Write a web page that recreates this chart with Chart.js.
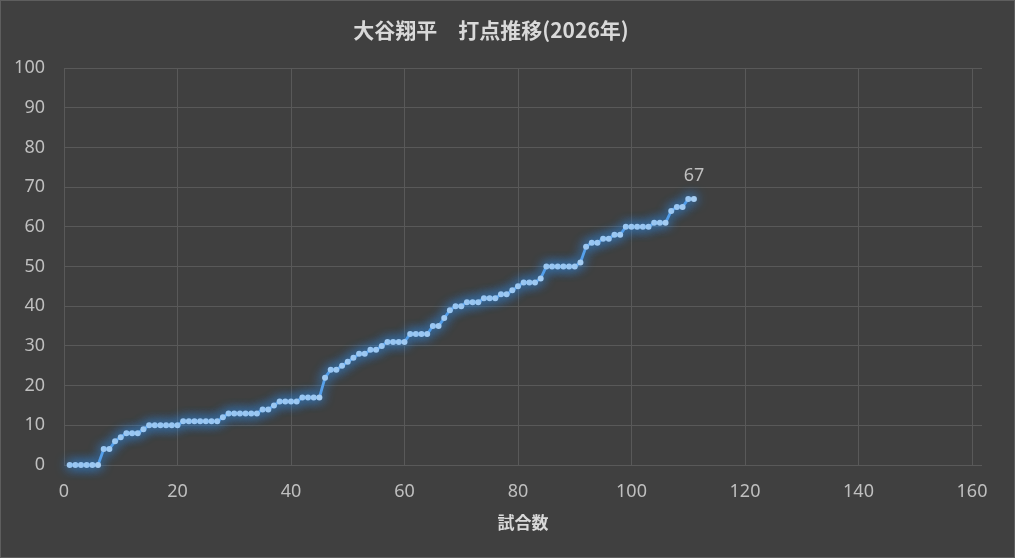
<!DOCTYPE html>
<html>
<head>
<meta charset="utf-8">
<script src="https://cdn.jsdelivr.net/npm/chart.js@4/dist/chart.umd.min.js"></script>
<style>
html,body{margin:0;padding:0;background:#404040;}
#wrap{width:1015px;height:558px;position:relative;}
</style>
</head>
<body>
<div id="wrap"><canvas id="c"></canvas></div>
<script>
const chartTitle = '大谷翔平　打点推移(2026年)';
const xAxisTitle = '試合数';
const games = [1,2,3,4,5,6,7,8,9,10,11,12,13,14,15,16,17,18,19,20,
  21,22,23,24,25,26,27,28,29,30,31,32,33,34,35,36,37,38,39,40,
  41,42,43,44,45,46,47,48,49,50,51,52,53,54,55,56,57,58,59,60,
  61,62,63,64,65,66,67,68,69,70,71,72,73,74,75,76,77,78,79,80,
  81,82,83,84,85,86,87,88,89,90,91,92,93,94,95,96,97,98,99,100,
  101,102,103,104,105,106,107,108,109,110,111];
const rbi = [0,0,0,0,0,0,4,4,6,7,8,8,8,9,10,10,10,10,10,10,
  11,11,11,11,11,11,11,12,13,13,13,13,13,13,14,14,15,16,16,16,
  16,17,17,17,17,22,24,24,25,26,27,28,28,29,29,30,31,31,31,31,
  33,33,33,33,35,35,37,39,40,40,41,41,41,42,42,42,43,43,44,45,
  46,46,46,47,50,50,50,50,50,50,51,55,56,56,57,57,58,58,60,60,
  60,60,60,61,61,61,64,65,65,67,67];
const xTicks = [0,20,40,60,80,100,120,140,160];
const yTicks = [0,10,20,30,40,50,60,70,80,90,100];

const bgColor = '#404040';
const gridColor = '#595959';
const textColor = '#bfbfbf';
const titleColor = '#d9d9d9';
const fontFam = '"Noto Sans","Noto Sans CJK JP",sans-serif';
const cjkFam = '"Noto Sans CJK JP","Noto Sans",sans-serif';

const bgPlugin = {
  id: 'bg',
  beforeDraw(chart) {
    const ctx = chart.ctx;
    ctx.save();
    ctx.fillStyle = bgColor;
    ctx.fillRect(0, 0, chart.width, chart.height);
    ctx.strokeStyle = '#5e5e5e';
    ctx.lineWidth = 1;
    ctx.strokeRect(0.5, 0.5, chart.width - 1, chart.height - 1);
    ctx.restore();
  }
};

const glowPlugin = {
  id: 'glow',
  beforeDatasetDraw(chart) {
    const ctx = chart.ctx;
    ctx.save();
    ctx.shadowColor = 'rgba(50,145,240,1)';
    ctx.shadowBlur = 12;
  },
  afterDatasetDraw(chart) {
    chart.ctx.restore();
  }
};

const labelPlugin = {
  id: 'lastLabel',
  afterDatasetsDraw(chart) {
    const meta = chart.getDatasetMeta(0);
    const i = meta.data.length - 1;
    const pt = meta.data[i];
    const ctx = chart.ctx;
    ctx.save();
    ctx.fillStyle = textColor;
    ctx.font = '18px ' + fontFam;
    ctx.textAlign = 'center';
    ctx.textBaseline = 'middle';
    ctx.fillText(String(rbi[i]), pt.x, pt.y - 23);
    ctx.restore();
  }
};

new Chart(document.getElementById('c'), {
  type: 'line',
  data: {
    datasets: [{
      data: games.map((g, i) => ({x: g, y: rbi[i]})),
      borderColor: '#5ea3ea',
      borderWidth: 2.8,
      pointRadius: 3,
      pointBackgroundColor: '#a6cdf2',
      pointBorderWidth: 0,
      tension: 0,
      clip: false
    }]
  },
  options: {
    responsive: true,
    maintainAspectRatio: false,
    animation: false,
    devicePixelRatio: 1,
    layout: { padding: { left: 0, right: 33, top: 0, bottom: 0 } },
    plugins: {
      legend: { display: false },
      tooltip: { enabled: false },
      title: {
        display: true,
        text: chartTitle,
        color: titleColor,
        font: { family: cjkFam, size: 21, weight: 'bold' },
        padding: { top: 17, bottom: 25.8 }
      }
    },
    scales: {
      x: {
        type: 'linear',
        min: 0,
        max: 161.76,
        afterBuildTicks: s => { s.ticks = xTicks.map(v => ({value: v})); },
        ticks: { color: textColor, font: { family: fontFam, size: 18 }, padding: 16, maxRotation: 0 },
        grid: { color: gridColor, drawTicks: false },
        border: { display: false },
        title: {
          display: true, text: xAxisTitle, color: titleColor,
          font: { family: cjkFam, size: 17, weight: 'bold' },
          padding: { top: 0, bottom: 25 }
        },
        afterFit: s => { s.height = 93; }
      },
      y: {
        min: 0,
        max: 100,
        afterBuildTicks: s => { s.ticks = yTicks.map(v => ({value: v})); },
        ticks: { color: textColor, font: { family: fontFam, size: 18 }, padding: 19 },
        grid: { color: gridColor, drawTicks: false },
        border: { display: false },
        afterFit: s => { s.width = 64; }
      }
    }
  },
  plugins: [bgPlugin, glowPlugin, labelPlugin]
});
</script>
</body>
</html>
